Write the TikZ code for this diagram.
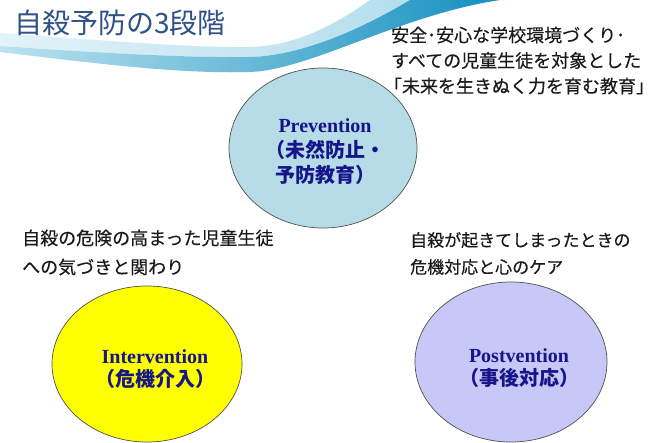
\documentclass[tikz,border=0pt]{standalone}
\usepackage{fontspec}
\newfontfamily\jp{Noto Sans CJK JP}
\newfontfamily\jpm[FakeBold=0.3]{Noto Sans CJK JP}
\newfontfamily\tms{Liberation Serif}
\usetikzlibrary{shapes.geometric}
\definecolor{titleblue}{HTML}{2F5186}
\definecolor{bodytext}{HTML}{1A1A1A}
\definecolor{navylbl}{HTML}{16168A}
\definecolor{prevfill}{HTML}{B6DCE8}
\definecolor{intfill}{HTML}{FFFF00}
\definecolor{postfill}{HTML}{C8C8F8}
\definecolor{rimgray}{HTML}{505050}
\definecolor{swLightL}{HTML}{E2F3F9}
\definecolor{swLightR}{HTML}{B4DEEC}
\definecolor{swDarkL}{HTML}{BCE2EF}
\definecolor{swDarkM}{HTML}{86CBE0}
\definecolor{swDarkR}{HTML}{1590C0}
\tikzset{
  phase/.style={ellipse, draw=rimgray, line width=0.7pt, inner sep=0pt},
  lbl/.style={align=center, inner sep=0pt, text=navylbl, font=\jp\bfseries\fontsize{20}{25}\selectfont},
  body/.style={align=left, inner sep=0pt, text=bodytext, anchor=west},
}
\begin{document}
\begin{tikzpicture}[x=1pt,y=-1pt]
\useasboundingbox (0,0) rectangle (664,443);
\fill[white] (0,0) rectangle (664,443);
% swoosh: light upper strip
\shade[left color=swLightL, right color=swLightR]
  (0,33) .. controls (100,40) and (190,48) .. (250,47)
  .. controls (295,46) and (335,25) .. (370,0)
  -- (410,0)
  .. controls (360,30) and (300,56) .. (250,57)
  .. controls (190,58) and (100,53) .. (0,46) -- cycle;
% swoosh: darker lower strip
\shade[left color=swDarkL, middle color=swDarkM, right color=swDarkR]
  (0,46) .. controls (100,53) and (190,58) .. (250,57)
  .. controls (300,56) and (360,30) .. (410,0)
  -- (500,0)
  .. controls (400,15) and (310,70) .. (250,72)
  .. controls (180,74) and (100,64) .. (0,52) -- cycle;
% title
\node[anchor=west, inner sep=0pt, text=titleblue, font=\jp\fontsize{28}{30}\selectfont] (title) at (14,23) {自殺予防の3段階};
% circles
\node[phase, fill=prevfill, minimum width=188pt, minimum height=160pt] (prev) at (323,148) {};
\node[phase, fill=intfill, minimum width=190pt, minimum height=156pt] (inter) at (147,364) {};
\node[phase, fill=postfill, minimum width=192pt, minimum height=160pt] (post) at (511,362) {};
% labels
\node[lbl] (prevlbl) at (325,152) {{\tms\bfseries Prevention}\\（未然防止・\\予防教育）};
\node[lbl, font=\jp\bfseries\fontsize{20}{23}\selectfont] (interlbl) at (155,369) {{\tms\bfseries Intervention}\\（危機介入）};
\node[lbl, font=\jp\bfseries\fontsize{20}{23}\selectfont] (postlbl) at (519,368) {{\tms\bfseries Postvention}\\（事後対応）};
% body texts
\node[body, font=\jpm\fontsize{18}{25.5}\selectfont] (preventxt) at (391,60.5) {安全･安心な学校環境づくり･\\すべての児童生徒を対象とした\\\kern-0.4em「未来を生きぬく力を育む教育」};
\node[body, font=\jpm\fontsize{18}{29}\selectfont] (intertxt) at (22,252.5) {自殺の危険の高まった児童生徒\\への気づきと関わり};
\node[body, font=\jpm\fontsize{17}{27}\selectfont] (posttxt) at (410,253.5) {自殺が起きてしまったときの\\危機対応と心のケア};
\end{tikzpicture}
\end{document}
